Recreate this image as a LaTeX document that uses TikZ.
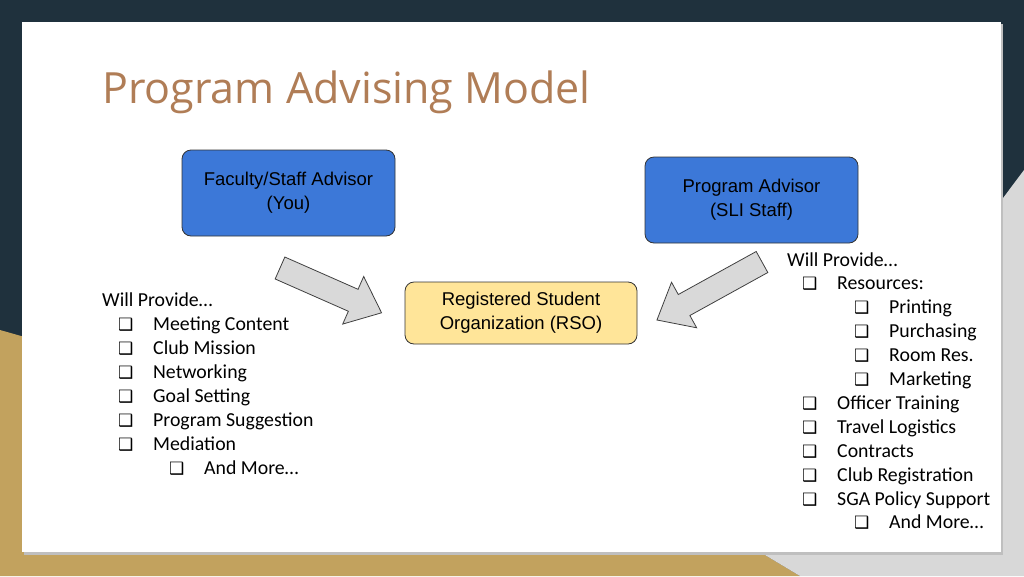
\documentclass[tikz,border=0pt]{standalone}
\usepackage{fontspec}
\setmainfont{Carlito}
\newfontfamily\titlefont{Open Sans}
\newfontfamily\boxfont{Liberation Sans}
\newfontfamily\symfont{DejaVu Sans}
\definecolor{navy}{HTML}{1F313D}
\definecolor{gold}{HTML}{C2A25E}
\definecolor{lgray}{HTML}{D8D8D8}
\definecolor{titlec}{HTML}{B07D56}
\definecolor{bluebox}{HTML}{3C78D8}
\definecolor{yelbox}{HTML}{FFE599}
\definecolor{arrgray}{HTML}{D9D9D9}
\newcommand{\cb}{{\symfont\fontsize{17}{17}\selectfont ❑}}
\begin{document}
\begin{tikzpicture}[x=1pt,y=-1pt,
  box/.style={draw=black!80,line width=0.8pt,rounded corners=9pt,align=center,
    font=\boxfont\fontsize{18.5}{24}\selectfont,inner sep=0pt},
  txt/.style={anchor=base west,inner sep=0pt,font=\fontsize{19.8}{22}\selectfont},
  chk/.style={anchor=base west,inner sep=0pt},
  barrow/.style={fill=arrgray,draw=black!75,line width=0.8pt,line join=miter}]
\useasboundingbox (0,0) rectangle (1024,576);
\fill[navy] (0,0) rectangle (1024,576);
\fill[gold] (0,330) -- (0,576) -- (800,576) -- (740,540) -- cycle;
\fill[lgray] (1024,170) -- (1024,576) -- (800,576) -- (745,543) -- cycle;
\fill[black!25] (24,24) rectangle (1003,555);
\fill[white] (22,22) rectangle (1001,552);
\node[anchor=base west,inner sep=0pt,text=titlec,font=\titlefont\fontsize{43}{45}\selectfont] (title) at (102,103) {Program Advising Model};
\node[box,fill=bluebox,minimum width=213pt,minimum height=86pt] (fac) at (288.5,193) {Faculty/Staff Advisor\\(You)};
\node[box,fill=bluebox,minimum width=213pt,minimum height=86pt] (prog) at (751.5,200) {Program Advisor\\(SLI Staff)};
\node[box,fill=yelbox,minimum width=232pt,minimum height=62pt] (rso) at (521,313) {Registered Student\\Organization (RSO)};
\coordinate (lt) at (280,268);
\coordinate (rt) at (762,262);
\begin{scope}[shift={(lt)},rotate=-23.8]
\draw[barrow] (0,-12) -- (80,-12) -- (80,-26) -- (111,0) -- (80,26) -- (80,12) -- (0,12) -- cycle;
\end{scope}
\begin{scope}[shift={(rt)},rotate=-151.1]
\draw[barrow] (0,-12) -- (89,-12) -- (89,-26) -- (120,0) -- (89,26) -- (89,12) -- (0,12) -- cycle;
\end{scope}
% left list
\node[txt] (lw) at (102,306) {Will Provide…};
\foreach \t [count=\i] in {Meeting Content,Club Mission,Networking,Goal Setting,Program Suggestion,Mediation}{
  \node[chk] (lc\i) at (118,306+24*\i) {\cb};
  \node[txt] (lt\i) at (153,306+24*\i) {\t};
}
\node[chk] (lc7) at (169,474) {\cb};
\node[txt] (lt7) at (204,474) {And More…};
% right list
\node[txt] (rw) at (787,266) {Will Provide…};
\foreach \t/\lev [count=\i] in {Resources:/0,Printing/1,Purchasing/1,Room Res./1,Marketing/1,Officer Training/0,Travel Logistics/0,Contracts/0,Club Registration/0,SGA Policy Support/0,And More…/1}{
  \node[chk] (rc\i) at (802+52*\lev,266+23.9*\i) {\cb};
  \node[txt] (rt\i) at (837+52*\lev,266+23.9*\i) {\t};
}
\end{tikzpicture}
\end{document}
